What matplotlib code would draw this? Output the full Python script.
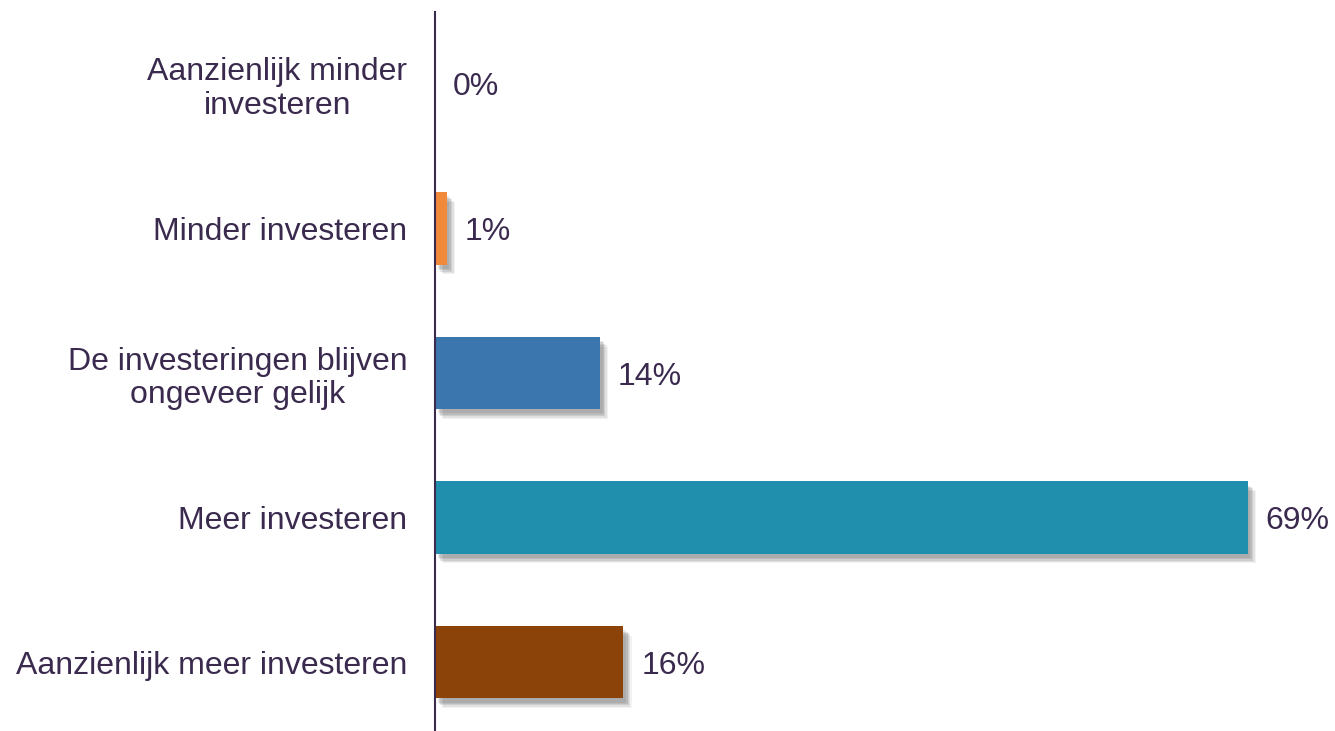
import matplotlib
matplotlib.use("Agg")
from matplotlib import pyplot as plt
from matplotlib import patheffects as pe

# data (top to bottom)
categories = [
    "Aanzienlijk minder\ninvesteren",
    "Minder investeren",
    "De investeringen blijven\nongeveer gelijk",
    "Meer investeren",
    "Aanzienlijk meer investeren",
]
values = [0, 1, 14, 69, 16]
bar_colors = ["#F08A3A", "#F08A3A", "#3C76AE", "#208FAE", "#8B4309"]
text_color = "#3A2A4E"

plt.rcParams["font.family"] = ["Liberation Sans", "DejaVu Sans"]

fig = plt.figure(figsize=(13.35, 7.31), dpi=100)
ax = fig.add_axes([0.3258, -0.0048, 0.7058, 0.989])

y = list(range(len(categories)))
bars = ax.barh(y, values, height=0.5, color=bar_colors, zorder=2)

# soft drop shadow: a few stacked shadows to fake a blur
shadow = [pe.SimplePatchShadow(offset=(dx, -dy), shadow_rgbFace="#4d4d4d", alpha=a)
          for dx, dy, a in [(6, 7, 0.07), (5, 6, 0.10), (4, 5, 0.13), (3, 4, 0.14), (2, 3, 0.12)]]
for b in bars:
    b.set_path_effects(shadow + [pe.Normal()])

for yi, v in zip(y, values):
    ax.annotate(f"{v}%", xy=(v, yi), xytext=(13, 0), textcoords="offset points",
                va="center_baseline", ha="left", fontsize=23, color=text_color)

ax.set_ylim(len(categories) - 0.5, -0.5)
ax.set_xlim(0, 80)
ax.set_yticks(y)
ax.set_yticklabels(categories, fontsize=23, color=text_color,
                   multialignment="center", linespacing=1.15)
ax.tick_params(axis="y", length=0, pad=20)
ax.set_xticks([])

for side in ["top", "right", "bottom"]:
    ax.spines[side].set_visible(False)
ax.spines["left"].set_color(text_color)
ax.spines["left"].set_linewidth(1.5)

fig.savefig("out.png", dpi=100)
